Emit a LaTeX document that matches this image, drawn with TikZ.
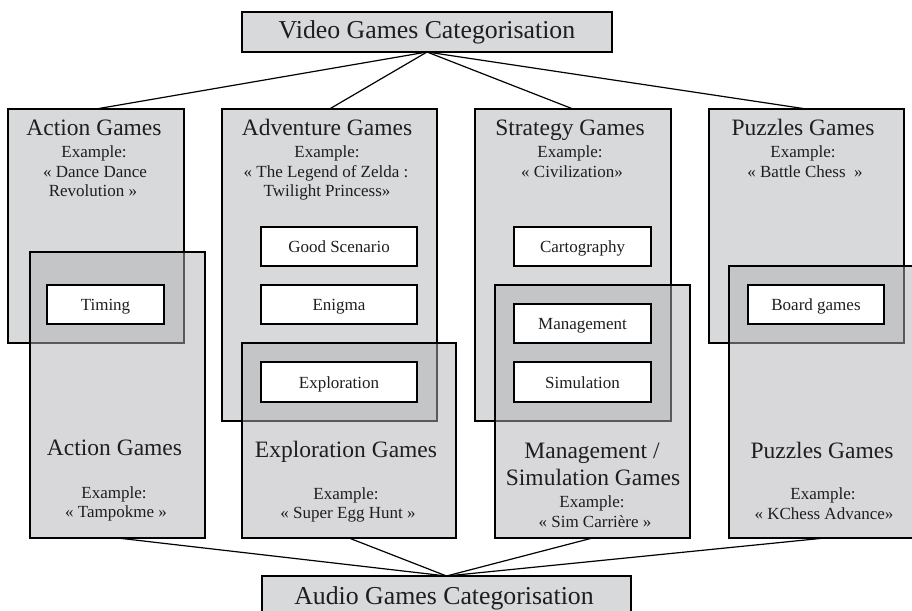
\documentclass[tikz,border=0pt]{standalone}
\usepackage{fontspec}
\setmainfont{Liberation Serif}
\definecolor{boxgray}{RGB}{216,217,219}
\definecolor{agray}{RGB}{178,178,181}
\definecolor{txt}{RGB}{30,30,30}
\begin{document}
\begin{tikzpicture}[x=1pt,y=-1pt,
  every node/.style={text=txt},
  catbox/.style={draw, line width=1.3pt, fill=boxgray, inner sep=0pt, outer sep=0pt, anchor=north west},
  vbox/.style={draw, line width=1.3pt, fill=boxgray, inner sep=0pt, outer sep=0pt, anchor=north west},
  abox/.style={draw, line width=1.3pt, fill=agray, fill opacity=0.5, draw opacity=1, inner sep=0pt, outer sep=0pt, anchor=north west},
  wbox/.style={draw, line width=1.3pt, fill=white, inner sep=0pt, outer sep=0pt, text height=12pt, text depth=0pt, font=\fontsize{17}{20}\selectfont},
  titletext/.style={anchor=base, inner sep=0pt, font=\fontsize{25.8}{30}\selectfont},
  headtext/.style={anchor=base, inner sep=0pt, font=\fontsize{23.5}{27}\selectfont},
  extext/.style={anchor=base, inner sep=0pt, font=\fontsize{17}{20}\selectfont},
  conn/.style={line width=1.2pt, draw=black}
]
\useasboundingbox (0,0) rectangle (912,610);
\clip (0,0) rectangle (912,610);

% title boxes
\node[catbox, minimum width=370pt, minimum height=40pt] (vtitle) at (242,12) {};
\node[catbox, minimum width=369pt, minimum height=40pt] (atitle) at (262,576) {};
\node[titletext] (vtitletext) at (427,39) {Video Games Categorisation};
\node[titletext] (atitletext) at (444,604) {Audio Games Categorisation};

% video game boxes
\node[vbox, minimum width=176pt, minimum height=234pt] (vact) at (8,109) {};
\node[vbox, minimum width=215pt, minimum height=312pt] (vadv) at (222,109) {};
\node[vbox, minimum width=196pt, minimum height=312pt] (vstr) at (475,109) {};
\node[vbox, minimum width=195pt, minimum height=234pt] (vpuz) at (709,109) {};

% audio game boxes
\node[abox, minimum width=175pt, minimum height=286pt] (aact) at (30,252) {};
\node[abox, minimum width=214pt, minimum height=195pt] (aexp) at (242,343) {};
\node[abox, minimum width=195pt, minimum height=253pt] (aman) at (495,285) {};
\node[abox, minimum width=192pt, minimum height=272pt] (apuz) at (729,266) {};

% inner white boxes
\node[wbox, minimum width=117pt, minimum height=39pt] (timing) at (105.5,304.5) {Timing};
\node[wbox, minimum width=156pt, minimum height=39pt] (scen) at (339,246.5) {Good Scenario};
\node[wbox, minimum width=156pt, minimum height=39pt] (enig) at (339,304.5) {Enigma};
\node[wbox, minimum width=156pt, minimum height=40pt] (explo) at (339,382) {Exploration};
\node[wbox, minimum width=137pt, minimum height=39pt] (carto) at (582.5,246.5) {Cartography};
\node[wbox, minimum width=137pt, minimum height=39pt] (manag) at (582.5,323.5) {Management};
\node[wbox, minimum width=137pt, minimum height=40pt] (simu) at (582.5,382) {Simulation};
\node[wbox, minimum width=136pt, minimum height=39pt] (board) at (816,304.5) {Board games};

% video texts
\node[headtext] (t1) at (94,135) {Action Games};
\node[extext] (t2) at (94,157) {Example:};
\node[extext] (t3) at (95,177) {« Dance Dance};
\node[extext] (t4) at (93,196.5) {Revolution »};

\node[headtext] (t5) at (327,135) {Adventure Games};
\node[extext] (t6) at (327,157) {Example:};
\node[extext] (t7) at (326,177) {« The Legend of Zelda :};
\node[extext] (t8) at (327,196) {Twilight Princess»};

\node[headtext] (t9) at (570,135) {Strategy Games};
\node[extext] (t10) at (570,157) {Example:};
\node[extext] (t11) at (572,177) {« Civilization»};

\node[headtext] (t12) at (803,135) {Puzzles Games};
\node[extext] (t13) at (803,157) {Example:};
\node[extext] (t14) at (805,177) {« Battle Chess~~»};

% audio texts
\node[headtext] (u1) at (114.5,455) {Action Games};
\node[extext] (u2) at (114,498) {Example:};
\node[extext] (u3) at (116,517) {« Tampokme »};

\node[headtext] (u4) at (346,457) {Exploration Games};
\node[extext] (u5) at (346,499) {Example:};
\node[extext] (u6) at (348,518) {« Super Egg Hunt »};

\node[headtext] (u7) at (592,458) {Management /};
\node[headtext] (u8) at (593,485) {Simulation Games};
\node[extext] (u9) at (592,507) {Example:};
\node[extext] (u10) at (595,527) {« Sim Carrière »};

\node[headtext] (u11) at (822,458) {Puzzles Games};
\node[extext] (u12) at (823,499) {Example:};
\node[extext] (u13) at (824,519) {« KChess Advance»};

% connectors
\draw[conn] (vtitle.south) -- (vact.north);
\draw[conn] (vtitle.south) -- (vadv.north);
\draw[conn] (vtitle.south) -- (vstr.north);
\draw[conn] (vtitle.south) -- (vpuz.north);
\draw[conn] (aact.south) -- (atitle.north);
\draw[conn] (aexp.south) -- (atitle.north);
\draw[conn] (aman.south) -- (atitle.north);
\draw[conn] (apuz.south) -- (atitle.north);
\end{tikzpicture}
\end{document}
